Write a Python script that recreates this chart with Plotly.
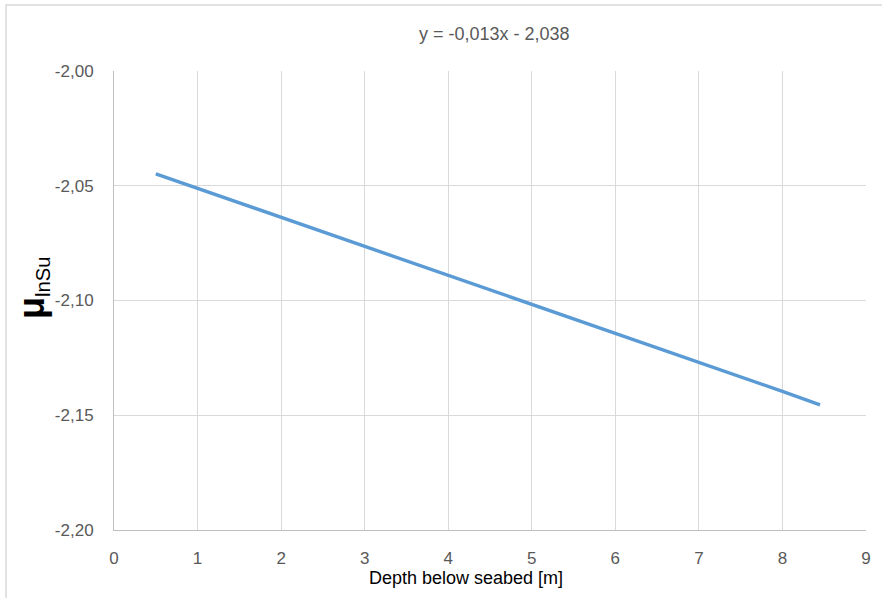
import plotly.graph_objects as go

# Fitted trend of mean ln(Su) against depth
depth_m = [0.5, 1, 2, 3, 4, 5, 6, 7, 8, 8.45]
mu_lnsu = [-2.0448, -2.0511, -2.0637, -2.0763, -2.0890, -2.1015, -2.1143, -2.1268, -2.1396, -2.1455]

x_ticks = [0, 1, 2, 3, 4, 5, 6, 7, 8, 9]
y_ticks = [-2.00, -2.05, -2.10, -2.15, -2.20]
y_tick_labels = ["-2,00", "-2,05", "-2,10", "-2,15", "-2,20"]

equation_text = "y = -0,013x - 2,038"
x_title = "Depth below seabed [m]"

FONT = "Liberation Sans, Arial, sans-serif"
GREY_TXT = "#595959"
GRID = "#D9D9D9"

fig = go.Figure()
fig.add_trace(go.Scatter(
    x=depth_m, y=mu_lnsu, mode="lines",
    line=dict(color="#5B9BD5", width=3.4),
    showlegend=False, hoverinfo="skip",
))

fig.update_layout(
    width=882, height=598,
    margin=dict(l=114, r=16, t=71, b=68),
    paper_bgcolor="white", plot_bgcolor="white",
    font=dict(family=FONT, color=GREY_TXT, size=17),
    xaxis=dict(
        range=[0, 9], tickvals=x_ticks, ticks="",
        showgrid=True, gridcolor=GRID, gridwidth=1,
        showline=True, linecolor="#BFBFBF", linewidth=1,
        zeroline=False, tickfont=dict(size=17, color=GREY_TXT),
        ticklabelstandoff=13,
    ),
    yaxis=dict(
        range=[-2.20, -2.00], tickvals=y_ticks, ticktext=y_tick_labels, ticks="",
        showgrid=True, gridcolor=GRID, gridwidth=1,
        showline=True, linecolor="#BFBFBF", linewidth=1,
        zeroline=False, tickfont=dict(size=17, color=GREY_TXT),
        ticklabelstandoff=16,
    ),
)

pw, ph = 752, 459  # plot area size in px

# Outer chart frame
fig.add_shape(type="rect", xref="paper", yref="paper",
              x0=(6 - 114) / pw, x1=1.2, y0=-0.3, y1=1 + (71 - 5) / ph,
              line=dict(color=GRID, width=1.5), fillcolor="rgba(0,0,0,0)", layer="below")

# Trendline equation
fig.add_annotation(text=equation_text, xref="paper", yref="paper",
                   x=(494 - 114) / pw, y=1 + (71 - 34) / ph,
                   xanchor="center", yanchor="middle",
                   showarrow=False, font=dict(size=18, color=GREY_TXT, family=FONT))

# Axis titles
fig.add_annotation(text=x_title, xref="paper", yref="paper",
                   x=(466 - 114) / pw, y=-(578 - 530) / ph,
                   xanchor="center", yanchor="middle",
                   showarrow=False, font=dict(size=18, color="black", family=FONT))
fig.add_annotation(text="<span style='font-size:36px'><b>μ</b></span><sub>lnSu</sub>",
                   xref="paper", yref="paper",
                   x=(32 - 114) / pw, y=(530 - 288) / ph, textangle=-90,
                   xanchor="center", yanchor="middle",
                   showarrow=False, font=dict(size=29, color="black", family=FONT))

fig.write_html("out.html")
